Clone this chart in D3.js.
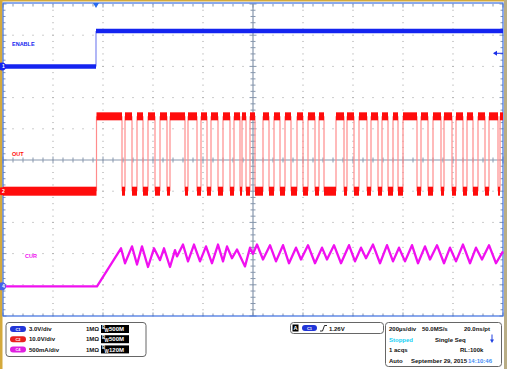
<!DOCTYPE html>
<html>
<head>
<meta charset="utf-8">
<script src="https://cdn.jsdelivr.net/npm/d3@7"></script>
<style>
body{margin:0;background:#fff}
svg{display:block}
text{font-family:"Liberation Sans",Arial,sans-serif;font-weight:bold}
</style>
</head>
<body>
<svg id="scope" width="507" height="369"></svg>
<script>
// time axis: µs relative to the trigger, 200µs/div over 10 divisions
var timeDomain = [-372, 1628];

// CH1 ENABLE (V)
var enableT = [-372, 0, 0, 1628];
var enableV = [0, 0, 3.4, 3.4];

// CH2 OUT (V): high intervals [start, end] in µs, low level 0 V, high level outHigh
var outHigh = 24;
var outPulses = [[2,104],[116,144],[164,188],[208,236],[256,284],[296,356],[368,404],[420,444],
  [460,488],[508,536],[552,576],[584,600],[616,636],[668,692],[712,736],[756,780],[804,828],
  [848,876],[892,912],[960,992],[1004,1032],[1052,1084],[1100,1128],[1144,1168],[1188,1208],
  [1228,1284],[1300,1328],[1348,1380],[1392,1424],[1440,1468],[1484,1508],[1528,1556],
  [1572,1608],[1616,1628]];

// CH4 CUR (A)
var curT = [-372,4,100,116,144,164,184,208,232,256,272,296,316,324,348,368,392,416,440,464,488,
  508,524,544,564,596,616,628,644,668,696,720,748,772,800,820,848,876,904,924,952,980,1012,1036,
  1060,1080,1108,1136,1164,1188,1212,1236,1264,1288,1316,1336,1364,1392,1416,1440,1468,1496,1520,
  1544,1572,1600,1628];
var curA = [0,0,0.61,0.37,0.64,0.35,0.64,0.31,0.61,0.42,0.61,0.31,0.58,0.48,0.67,0.4,0.67,0.4,0.64,
  0.37,0.67,0.4,0.64,0.45,0.59,0.32,0.62,0.52,0.67,0.43,0.66,0.4,0.66,0.37,0.62,0.43,0.66,0.37,0.62,
  0.43,0.66,0.37,0.66,0.4,0.62,0.45,0.67,0.37,0.66,0.4,0.62,0.4,0.66,0.37,0.64,0.43,0.66,0.37,0.62,
  0.4,0.67,0.37,0.62,0.43,0.66,0.37,0.56];

var channels = [
  {id:"1", label:"ENABLE", scale:"3.0V/div",  perDiv:3,   pos:3.0,   color:"#1424f0", bw:"500M"},
  {id:"2", label:"OUT",    scale:"10.0V/div", perDiv:10,  pos:-1.0,  color:"#ff0c0c", bw:"500M"},
  {id:"4", label:"CUR",    scale:"500mA/div", perDiv:0.5, pos:-4.05, color:"#f010f0", bw:"120M"}
];
var pillColors = ["#2236d8", "#e82020", "#e020e0"];
var triggerLevel = 1.26;

var svg = d3.select("#scope");
var X0 = 3, X1 = 503, Y0 = 4, Y1 = 316;
var x = d3.scaleLinear().domain(timeDomain).range([X0, X1]);
var div = d3.scaleLinear().domain([-5, 5]).range([Y1, Y0]);
function yOf(ch, v){ return div(v/ch.perDiv + ch.pos); }

// outer frame
svg.append("rect").attr("width",507).attr("height",369).attr("fill","#fff");
svg.append("rect").attr("x",0).attr("y",0).attr("width",2.5).attr("height",369).attr("fill","#d4a93c");
svg.append("rect").attr("x",0).attr("y",0).attr("width",507).attr("height",1.5).attr("fill","#d4a93c");
svg.append("rect").attr("x",504).attr("y",0).attr("width",3).attr("height",369).attr("fill","#b9ad86");

var grid = svg.append("g");
// dotted grid lines
for (var i=1;i<10;i++){
  if (i==5) continue;
  var gx = X0 + i*50;
  for (var k=0;k<=50;k++){
    grid.append("rect").attr("x",gx-0.5).attr("y",Y0+k*6.24-0.5).attr("width",1).attr("height",1).attr("fill","#9a9a9a");
  }
}
for (var j=1;j<10;j++){
  if (j==5) continue;
  var gy = Y0 + j*31.2;
  for (var k=0;k<=50;k++){
    grid.append("rect").attr("x",X0+k*10-0.5).attr("y",gy-0.5).attr("width",1).attr("height",1).attr("fill","#9a9a9a");
  }
}
// center axes with ticks
var cx = X0+250, cy = Y0+156;
grid.append("line").attr("x1",X0).attr("x2",X1).attr("y1",cy).attr("y2",cy).attr("stroke","#8797ad").attr("stroke-width",1.2);
grid.append("line").attr("x1",cx).attr("x2",cx).attr("y1",Y0).attr("y2",Y1).attr("stroke","#8797ad").attr("stroke-width",1.2);
for (var k=0;k<=50;k++){
  var tx = X0+k*10, len = (k%5==0)?3.5:2.5;
  grid.append("line").attr("x1",tx).attr("x2",tx).attr("y1",cy-len).attr("y2",cy+len).attr("stroke","#8797ad");
  grid.append("line").attr("x1",tx).attr("x2",tx).attr("y1",Y0).attr("y2",Y0+len).attr("stroke","#8797ad");
  grid.append("line").attr("x1",tx).attr("x2",tx).attr("y1",Y1-len).attr("y2",Y1).attr("stroke","#8797ad");
  var ty = Y0+k*6.24;
  grid.append("line").attr("y1",ty).attr("y2",ty).attr("x1",cx-len).attr("x2",cx+len).attr("stroke","#8797ad");
  grid.append("line").attr("y1",ty).attr("y2",ty).attr("x1",X0).attr("x2",X0+len).attr("stroke","#8797ad");
  grid.append("line").attr("y1",ty).attr("y2",ty).attr("x1",X1-len).attr("x2",X1).attr("stroke","#8797ad");
}
// graticule border
svg.append("rect").attr("x",X0).attr("y",Y0-1).attr("width",X1-X0).attr("height",Y1-Y0+1)
  .attr("fill","none").attr("stroke","#3d6fe0").attr("stroke-width",1.2);

// CH4 CUR
var ch4 = channels[2];
var curLine = d3.line().x(function(d){return x(d[0]);}).y(function(d){return yOf(ch4,d[1]);});
svg.append("path").datum(d3.zip(curT,curA)).attr("d",curLine)
  .attr("fill","none").attr("stroke",ch4.color).attr("stroke-width",2.3).attr("stroke-linejoin","round");

// CH2 OUT
var ch2 = channels[1];
var yLo = yOf(ch2,0), yHi = yOf(ch2,outHigh);
var outG = svg.append("g");
var edges = [];
outPulses.forEach(function(p){ edges.push(p[0]); if (p[1] < timeDomain[1]) edges.push(p[1]); });
outG.selectAll(".edge").data(edges).enter().append("line")
  .attr("x1",function(d){return x(d);}).attr("x2",function(d){return x(d);})
  .attr("y1",yLo).attr("y2",yHi).attr("stroke","#ff8c8c").attr("stroke-width",1.2);
var lows = [[timeDomain[0], outPulses[0][0]]];
for (var i=0;i<outPulses.length-1;i++) lows.push([outPulses[i][1], outPulses[i+1][0]]);
outG.selectAll(".hi").data(outPulses).enter().append("rect")
  .attr("x",function(d){return x(d[0]);}).attr("width",function(d){return x(d[1])-x(d[0]);})
  .attr("y",yHi-4).attr("height",8).attr("fill",ch2.color);
outG.selectAll(".lo").data(lows).enter().append("rect")
  .attr("x",function(d){return x(d[0]);}).attr("width",function(d){return x(d[1])-x(d[0]);})
  .attr("y",yLo-4.5).attr("height",9).attr("fill",ch2.color);

// CH1 ENABLE
var ch1 = channels[0];
var en = d3.zip(enableT, enableV);
svg.append("line").attr("x1",x(0)).attr("x2",x(0)).attr("y1",yOf(ch1,0)).attr("y2",yOf(ch1,3.4))
  .attr("stroke","#7d86f0").attr("stroke-width",1.2);
[[en[0],en[1]],[en[2],en[3]]].forEach(function(s){
  svg.append("line").attr("x1",x(s[0][0])).attr("x2",x(s[1][0])).attr("y1",yOf(ch1,s[0][1])).attr("y2",yOf(ch1,s[1][1]))
    .attr("stroke",ch1.color).attr("stroke-width",4.5);
});

// channel labels on screen
var labelPos = [[12,46],[12,156],[25,258]];
channels.forEach(function(c,i){
  svg.append("text").attr("x",labelPos[i][0]).attr("y",labelPos[i][1]).attr("font-size",5.5)
    .attr("font-weight","normal").attr("fill",c.color).text(c.label);
});

// ground markers at left edge
channels.forEach(function(c,i){
  var gy = yOf(c,0);
  svg.append("circle").attr("cx",2).attr("cy",gy).attr("r",4).attr("fill",i==2?"#4560e8":c.color);
  svg.append("text").attr("x",2).attr("y",gy+2).attr("font-size",5).attr("fill","#fff").text(c.id);
});

// trigger position and level markers
svg.append("path").attr("d","M"+(x(0)-3)+",3 L"+(x(0)+3)+",3 L"+x(0)+",8 Z").attr("fill","#2a6cf0");
var tly = yOf(ch1, triggerLevel);
svg.append("line").attr("x1",494).attr("x2",503).attr("y1",tly).attr("y2",tly).attr("stroke","#1a2ee8").attr("stroke-width",1);
svg.append("path").attr("d","M493,"+tly+" l4,-2.5 l0,5 Z").attr("fill","#1a2ee8");

// ---- readout panel ----
var fs = 6;
var panel = svg.append("g");
panel.append("rect").attr("x",6).attr("y",322.5).attr("width",140).attr("height",34).attr("rx",3)
  .attr("fill","none").attr("stroke","#666").attr("stroke-width",1);
channels.forEach(function(c,i){
  var ry = 329 + i*10.2;
  panel.append("rect").attr("x",10).attr("y",ry-3).attr("width",16).attr("height",6).attr("rx",3).attr("fill",pillColors[i]);
  panel.append("text").attr("x",18).attr("y",ry+1.6).attr("font-size",4).attr("text-anchor","middle").attr("fill","#fff").text("C"+c.id);
  panel.append("text").attr("x",29).attr("y",ry+2.2).attr("font-size",fs).attr("fill","#111").text(c.scale);
  panel.append("text").attr("x",86).attr("y",ry+2.2).attr("font-size",fs).attr("fill","#111").text("1M\u03a9");
  panel.append("rect").attr("x",101).attr("y",ry-4).attr("width",28).attr("height",8).attr("fill","#000");
  panel.append("text").attr("x",102).attr("y",ry).attr("font-size",4.5).attr("fill","#fff").text("B");
  panel.append("text").attr("x",104.5).attr("y",ry+3.2).attr("font-size",4.5).attr("fill","#fff").text("W");
  panel.append("text").attr("x",109).attr("y",ry+2.2).attr("font-size",fs).attr("fill","#fff").text(c.bw);
});

// trigger box
panel.append("rect").attr("x",290.5).attr("y",322.5).attr("width",93).attr("height",11).attr("rx",3)
  .attr("fill","none").attr("stroke","#666").attr("stroke-width",1);
panel.append("rect").attr("x",292.5).attr("y",324.5).attr("width",6).attr("height",7).attr("fill","#000");
panel.append("text").attr("x",293.6).attr("y",330.3).attr("font-size",5.5).attr("fill","#fff").text("A");
panel.append("rect").attr("x",302).attr("y",325).attr("width",15).attr("height",6).attr("rx",3).attr("fill",pillColors[0]);
panel.append("text").attr("x",309.5).attr("y",329.6).attr("font-size",4).attr("text-anchor","middle").attr("fill","#fff").text("C1");
panel.append("path").attr("d","M320,331 L322.5,331 L324.5,325.5 L327,325.5").attr("fill","none").attr("stroke","#111").attr("stroke-width",0.9);
panel.append("text").attr("x",329).attr("y",330.6).attr("font-size",fs).attr("fill","#111").text(triggerLevel.toFixed(2)+"V");

// acquisition box
panel.append("rect").attr("x",385.5).attr("y",322.5).attr("width",116).attr("height",44).attr("rx",3)
  .attr("fill","none").attr("stroke","#666").attr("stroke-width",1);
var acq = [
  [389,330.5,"200\u00b5s/div","#111"],[422,330.5,"50.0MS/s","#111"],[464,330.5,"20.0ns/pt","#111"],
  [389,341.5,"Stopped","#15d0f5"],[435,341.5,"Single Seq","#111"],
  [389,351.5,"1 acqs","#111"],[460,351.5,"RL:100k","#111"],
  [389,363,"Auto","#111"],[411,363,"September 29, 2015","#111"],[468,363,"14:10:46","#3f8cf5"]
];
acq.forEach(function(a){
  panel.append("text").attr("x",a[0]).attr("y",a[1]).attr("font-size",fs).attr("fill",a[3]).text(a[2]);
});
panel.append("path").attr("d","M491.5,334.5 L492.5,334.5 L492.5,339.5 L494,339.5 L492,343 L490,339.5 L491.5,339.5 Z").attr("fill","#2040e0");
</script>
</body>
</html>
